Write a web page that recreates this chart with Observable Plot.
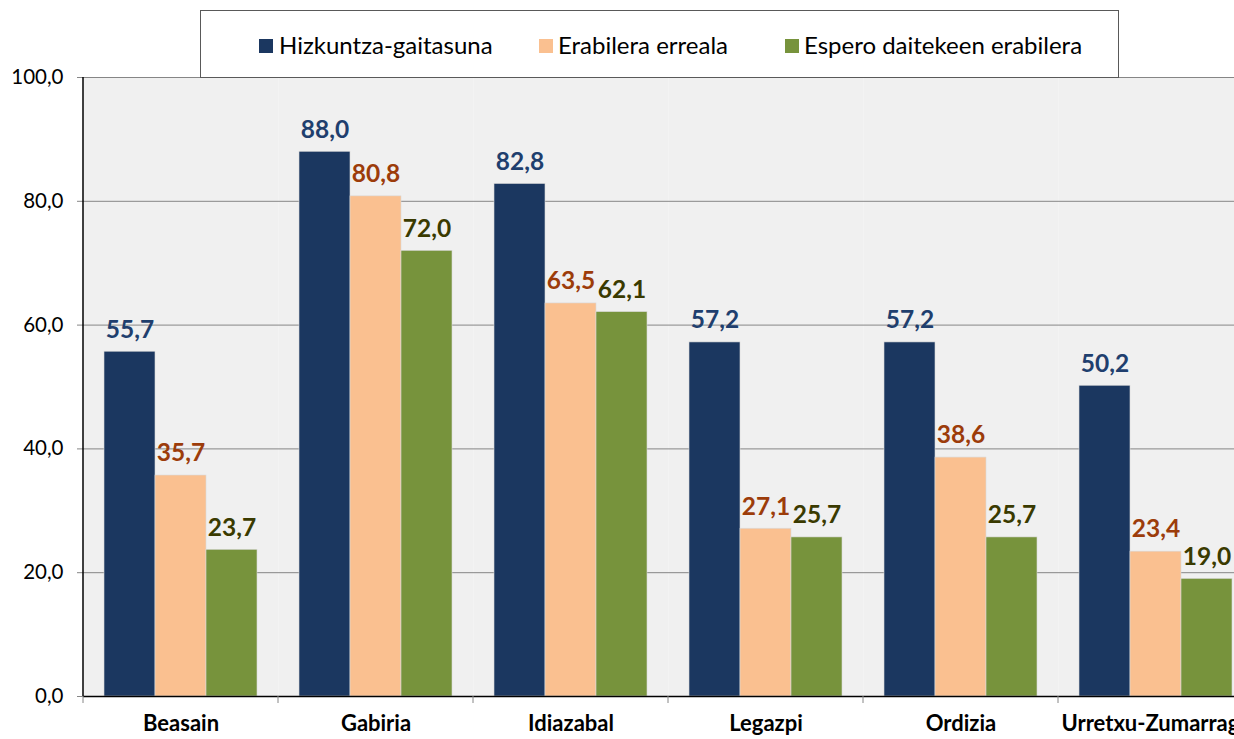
<!DOCTYPE html>
<html><head><meta charset="utf-8">
<script src="https://cdn.jsdelivr.net/npm/d3@7"></script>
<script src="https://cdn.jsdelivr.net/npm/@observablehq/plot@0.6"></script>
<style>
html,body{margin:0;padding:0;overflow:hidden;background:#fff;width:1234px;height:739px}
#wrap{position:relative;width:1254px;height:739px;font-family:Lato,sans-serif}
#wrap svg{position:absolute;left:0;top:0}
#legend{position:absolute;left:200px;top:10px;width:919px;height:68px;border:1px solid #595959;background:#fff;box-sizing:border-box}
.sw{position:absolute;top:28px;width:14px;height:14px}
.lt{position:absolute;top:19px;font-size:24px;line-height:30px;color:#000;white-space:nowrap}
</style></head>
<body>
<div id="wrap"><div id="legend"></div></div>
<script>
const cities = ["Beasain","Gabiria","Idiazabal","Legazpi","Ordizia","Urretxu-Zumarraga"];
const series = ["Hizkuntza-gaitasuna","Erabilera erreala","Espero daitekeen erabilera"];
const gaitasuna = [55.7, 88.0, 82.8, 57.2, 57.2, 50.2];
const erreala   = [35.7, 80.8, 63.5, 27.1, 38.6, 23.4];
const espero    = [23.7, 72.0, 62.1, 25.7, 25.7, 19.0];
const yTicks = [0, 20, 40, 60, 80, 100];
const barColors = ["#1B3760", "#FAC090", "#77933C"];
const labelColors = ["#1F3F6E", "#9C3C0A", "#3A3A00"];

const valuesBySeries = [gaitasuna, erreala, espero];
const data = [];
series.forEach((s, i) => cities.forEach((c, j) => data.push({city: c, series: s, value: valuesBySeries[i][j]})));
const fmt = v => d3.format(".1f")(v).replace(".", ",");

const textMarks = series.map((s, i) => Plot.text(data.filter(d => d.series === s), {
  fx: "city", x: "series", y: "value", text: d => fmt(d.value),
  fill: labelColors[i], dy: -22, fontSize: 24.5, fontWeight: "bold"
}));

const plot = Plot.plot({
  width: 1254, height: 739,
  marginLeft: 83, marginRight: 1, marginTop: 77, marginBottom: 43,
  style: {fontFamily: "Lato, sans-serif", background: "transparent", overflow: "visible"},
  fx: {domain: cities, padding: 0, label: null, axis: null},
  x: {domain: series, paddingInner: 0, paddingOuter: 0.4, axis: null},
  y: {domain: [0, 100], label: null, axis: null},
  color: {domain: series, range: barColors},
  marks: [
    Plot.frame({fill: "#F0F0F0", stroke: null}),
    Plot.ruleY(yTicks.slice(1), {stroke: "#868686", strokeWidth: 1}),
    Plot.barY(data, {fx: "city", x: "series", y: "value", fill: "series", stroke: "#DADADA", strokeWidth: 0.6}),
    ...textMarks,
    Plot.ruleY([0], {stroke: "#000", strokeWidth: 1.5}),
    Plot.axisY({ticks: yTicks, tickFormat: fmt, tickSize: 6, tickPadding: 14, fontSize: 20.5, label: null, stroke: "#868686", fill: "#000"}),
    Plot.axisFx({anchor: "bottom", tickSize: 0, tickPadding: 19, fontSize: 22, fontWeight: "bold", label: null, fill: "#000"})
  ]
});

document.getElementById("wrap").prepend(plot);

// axis lines and category boundary ticks from the plot's own scales
const svg = d3.select(plot);
const fxs = plot.scale("fx");
const ys = plot.scale("y");
const bx = d3.scaleBand().domain(fxs.domain).range(fxs.range).padding(0);
const yr = ys.range;
const y0 = Math.max(yr[0], yr[1]), yTop = Math.min(yr[0], yr[1]);
const edges = cities.map(c => bx(c)).concat([bx.range()[1]]);
svg.append("g").selectAll("line").data(edges).join("line")
  .attr("x1", d => d).attr("x2", d => d).attr("y1", y0).attr("y2", y0 + 7)
  .attr("stroke", "#868686");
svg.append("line").attr("x1", bx.range()[0]).attr("x2", bx.range()[0])
  .attr("y1", yTop).attr("y2", y0).attr("stroke", "#000").attr("stroke-width", 1.5);

// legend
const legend = document.getElementById("legend");
const legendPos = [[58, 78], [338, 357], [584, 603]];
series.forEach((s, i) => {
  const sw = document.createElement("div");
  sw.className = "sw"; sw.style.left = legendPos[i][0] + "px"; sw.style.background = barColors[i];
  const t = document.createElement("div");
  t.className = "lt"; t.style.left = legendPos[i][1] + "px"; t.textContent = s;
  legend.append(sw, t);
});
</script>
</body></html>
